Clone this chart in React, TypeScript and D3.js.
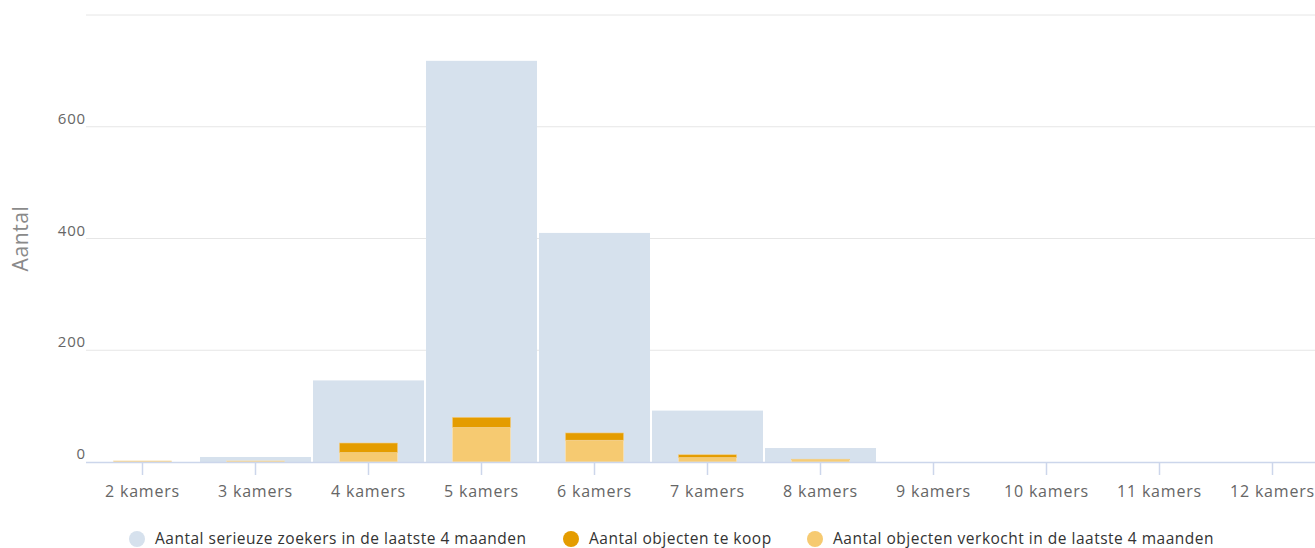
import * as d3 from 'd3'

const categories = ['2 kamers', '3 kamers', '4 kamers', '5 kamers', '6 kamers', '7 kamers', '8 kamers', '9 kamers', '10 kamers', '11 kamers', '12 kamers']
const zoekers = [0, 9, 146, 718, 410, 92, 25, 0, 0, 0, 0]
const teKoop = [0, 0, 17, 18, 13, 5, 1, 0, 0, 0, 0]
const verkocht = [2, 2, 17, 62, 39, 8, 4, 0, 0, 0, 0]
const yTicks = [0, 200, 400, 600, 800]

const legendItems = [
  { label: 'Aantal serieuze zoekers in de laatste 4 maanden', color: '#d6e1ed', x: 137 },
  { label: 'Aantal objecten te koop', color: '#e49c00', x: 571 },
  { label: 'Aantal objecten verkocht in de laatste 4 maanden', color: '#f6ca71', x: 815 },
]

const FONT = "'Open Sans', 'Noto Sans', sans-serif"

export default function App() {
  const left = 86
  const step = 113
  const x = d3.scaleBand<string>().domain(categories).range([left, left + step * categories.length]).padding(0)
  const y = d3.scaleLinear().domain([0, 800]).range([462, 15])
  const bw = x.bandwidth()
  const inner = d3.scaleBand<string>().domain(['s']).range([0, bw]).padding(0.32)

  return (
    <div style={{ position: 'absolute', left: 0, top: 0, width: 1315, height: 548, overflow: 'hidden', background: '#fff' }}>
      <svg width={1345} height={548} style={{ display: 'block', fontFamily: FONT }}>
        {/* gridlines */}
        {yTicks.map((t) =>
          t === 0 ? null : (
            <line key={t} x1={left} x2={1345} y1={y(t)} y2={y(t)} stroke="#e6e6e6" strokeWidth={1} />
          )
        )}
        {/* y labels */}
        {yTicks.slice(0, 4).map((t) => (
          <text key={t} x={left} y={y(t) - 3} textAnchor="end" fontSize={15} letterSpacing={0.8} fill="#666">
            {t}
          </text>
        ))}
        <text
          transform={`translate(28,${(y(0) + y(800)) / 2}) rotate(-90)`}
          textAnchor="middle"
          fontSize={21}
          letterSpacing={0.6}
          fill="#8a8a8a"
        >
          Aantal
        </text>

        {/* blue bars */}
        {categories.map((c, i) =>
          zoekers[i] > 0 ? (
            <rect
              key={c}
              x={x(c)! + 1}
              y={y(zoekers[i])}
              width={bw - 2}
              height={y(0) - y(zoekers[i])}
              fill="#d6e1ed"
            />
          ) : null
        )}

        {/* stacked orange bars */}
        {categories.map((c, i) => {
          const x0 = x(c)! + inner('s')!
          const w = inner.bandwidth()
          const s = verkocht[i]
          const k = teKoop[i]
          return (
            <g key={c}>
              {s > 0 && (
                <rect x={x0} y={y(s)} width={w} height={y(0) - y(s)} fill="#f6ca71" stroke="#fbe6c0" strokeWidth={0.6} />
              )}
              {k > 0 && (
                <rect x={x0} y={y(s + k)} width={w} height={y(s) - y(s + k)} fill="#e49c00" stroke="#f3cf87" strokeWidth={0.6} />
              )}
            </g>
          )
        })}

        {/* x axis */}
        <line x1={left} x2={1345} y1={y(0) + 0.5} y2={y(0) + 0.5} stroke="#ccd6eb" strokeWidth={1.5} />
        {categories.map((c) => {
          const cx = x(c)! + bw / 2
          return (
            <g key={c}>
              <line x1={cx} x2={cx} y1={y(0)} y2={y(0) + 13} stroke="#ccd6eb" strokeWidth={1.5} />
              <text x={cx} y={497} textAnchor="middle" fontSize={16} letterSpacing={0.8} fill="#666">
                {c}
              </text>
            </g>
          )
        })}

        {/* legend */}
        {legendItems.map((l) => (
          <g key={l.label}>
            <circle cx={l.x} cy={539} r={8} fill={l.color} />
            <text x={l.x + 18} y={544} fontSize={15.5} letterSpacing={0.5} fill="#333">
              {l.label}
            </text>
          </g>
        ))}
      </svg>
    </div>
  )
}
